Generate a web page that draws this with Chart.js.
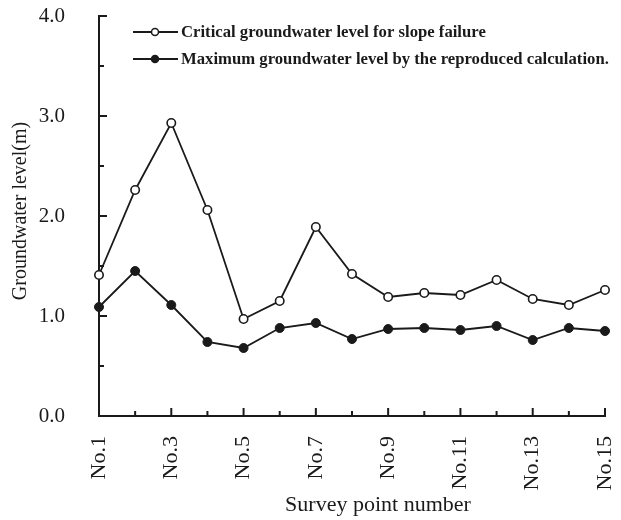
<!DOCTYPE html>
<html>
<head>
<meta charset="utf-8">
<script src="https://cdn.jsdelivr.net/npm/chart.js@4.4.1/dist/chart.umd.min.js"></script>
<style>
  body { margin: 0; background: #fff; }
  #wrap { width: 621px; height: 520px; }
</style>
</head>
<body>
<div id="wrap"><canvas id="myChart" width="621" height="520"></canvas></div>
<script>
let labels = ['No.1', 'No.2', 'No.3', 'No.4', 'No.5', 'No.6', 'No.7', 'No.8',
              'No.9', 'No.10', 'No.11', 'No.12', 'No.13', 'No.14', 'No.15']
let criticalLevel = [1.41, 2.26, 2.93, 2.06, 0.97, 1.15, 1.89, 1.42, 1.19, 1.23, 1.21, 1.36, 1.17, 1.11, 1.26]
let maxLevel = [1.09, 1.45, 1.11, 0.74, 0.68, 0.88, 0.93, 0.77, 0.87, 0.88, 0.86, 0.90, 0.76, 0.88, 0.85]
let seriesNames = ['Critical groundwater level for slope failure',
                   'Maximum groundwater level by the reproduced calculation.']
let yTitle = 'Groundwater level(m)'
let xTitle = 'Survey point number'

let ink = '#1a1a1a'
let serif = '"Liberation Serif", "Times New Roman", serif'

// ticks point inward, titles and legend placed like the printed figure
let paperAxes = {
    id: 'paperAxes',
    afterDraw(chart) {
        let ctx = chart.ctx
        let x = chart.scales.x
        let y = chart.scales.y
        let area = chart.chartArea
        ctx.save()
        ctx.strokeStyle = ink
        ctx.lineWidth = 2
        // y ticks every 0.5, major ones longer
        for (let v = 0.5; v <= 4; v += 0.5) {
            let py = y.getPixelForValue(v)
            let len = Number.isInteger(v) ? 8 : 5
            ctx.beginPath()
            ctx.moveTo(area.left, py)
            ctx.lineTo(area.left + len, py)
            ctx.stroke()
        }
        // x ticks upward
        for (let i = 1; i < labels.length; i++) {
            let px = x.getPixelForValue(i)
            let len = i % 2 === 0 ? 8 : 5
            ctx.beginPath()
            ctx.moveTo(px, area.bottom)
            ctx.lineTo(px, area.bottom - len)
            ctx.stroke()
        }

        // axis titles
        ctx.fillStyle = ink
        ctx.textAlign = 'center'
        ctx.textBaseline = 'middle'
        ctx.font = '22px ' + serif
        ctx.fillText(xTitle, 378, 505)
        ctx.save()
        ctx.translate(21, 211)
        ctx.rotate(-Math.PI / 2)
        ctx.font = '20px ' + serif
        ctx.fillText(yTitle, 0, 0)
        ctx.restore()

        // legend
        ctx.textAlign = 'left'
        ctx.font = 'bold 16.7px ' + serif
        chart.data.datasets.forEach(function (ds, i) {
            let ly = 32 + i * 27
            ctx.lineWidth = 1.8
            ctx.beginPath()
            ctx.moveTo(133, ly)
            ctx.lineTo(178, ly)
            ctx.stroke()
            ctx.beginPath()
            ctx.arc(155, ly, 3.5, 0, Math.PI * 2)
            ctx.fillStyle = ds.pointBackgroundColor
            ctx.fill()
            ctx.lineWidth = 1.5
            ctx.stroke()
            ctx.fillStyle = ink
            ctx.fillText(ds.label, 181, ly + 1)
        })
        ctx.restore()
    }
}

function noScalePadding(scale) {
    scale.paddingTop = 0
    scale.paddingBottom = 0
    scale.paddingLeft = 0
    scale.paddingRight = 0
}

let chartCtx = document.getElementById('myChart').getContext('2d')
let myChart = new Chart(chartCtx, {
    type: 'line',
    data: {
        labels: labels,
        datasets: [
            {
                label: seriesNames[0],
                data: criticalLevel,
                borderColor: ink,
                borderWidth: 1.8,
                pointRadius: 4.2,
                pointBorderWidth: 1.6,
                pointBackgroundColor: '#ffffff',
                pointBorderColor: ink,
                tension: 0,
                clip: false,
            },
            {
                label: seriesNames[1],
                data: maxLevel,
                borderColor: ink,
                borderWidth: 1.8,
                pointRadius: 4.5,
                pointBorderWidth: 1,
                pointBackgroundColor: ink,
                pointBorderColor: ink,
                tension: 0,
                clip: false,
            },
        ],
    },
    options: {
        responsive: false,
        animation: false,
        layout: {
            padding: { top: 16, right: 16, left: 0, bottom: 0 },
        },
        plugins: {
            legend: { display: false },
            tooltip: { enabled: false },
        },
        scales: {
            x: {
                offset: false,
                grid: { display: false },
                border: { display: true, color: ink, width: 2 },
                ticks: {
                    autoSkip: false,
                    maxRotation: 90,
                    minRotation: 90,
                    padding: 12,
                    color: ink,
                    font: { family: serif, size: 22 },
                    callback: function (v, i) { return i % 2 === 0 ? labels[i] : '' },
                },
                afterFit: function (scale) {
                    scale.height = 104
                    noScalePadding(scale)
                },
            },
            y: {
                min: 0,
                max: 4,
                grid: { display: false },
                border: { display: true, color: ink, width: 2 },
                ticks: {
                    stepSize: 0.5,
                    padding: 26,
                    color: ink,
                    font: { family: serif, size: 21 },
                    callback: function (v) { return Number.isInteger(v) ? v.toFixed(1) : '' },
                },
                afterFit: function (scale) {
                    scale.width = 99
                    noScalePadding(scale)
                },
            },
        },
    },
    plugins: [paperAxes],
})
</script>
</body>
</html>
